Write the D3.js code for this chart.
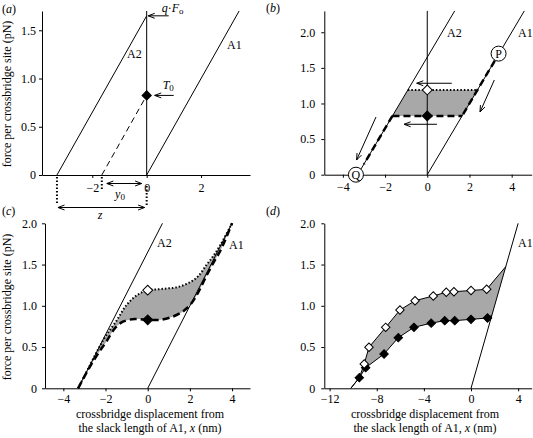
<!DOCTYPE html>
<html><head><meta charset="utf-8">
<script src="https://cdn.jsdelivr.net/npm/d3@7"></script>
<style>
body{margin:0;background:#fff}
svg{display:block}
svg text{font-family:"Liberation Serif","Times New Roman",serif;fill:#000;font-size:12px}
</style></head><body>
<svg id="c" width="533" height="438"></svg>
<script>
// ---------- data ----------
// panel (a)
const aA1 = [[0, 0], [3.4, 1.7]];
const aA2 = [[-3.3, 0], [0, 1.65]];
const aZeroLine = [[0, 0], [0, 1.7]];
const aStroke = [[-1.65, 0], [0, 0.825]];
const aT0 = [[0, 0.825]];
const aQF0 = 1.65;
const aXTicks = [-2, 0, 2];
const aYTicks = [0, 0.5, 1.0, 1.5];
const aY0 = -1.65, aZ = -3.3;

// panel (b)
const bA1 = [[0, 0], [4.6, 2.3]];
const bA2 = [[-3.3, 0], [1.3, 2.3]];
const bZeroLine = [[0, 0], [0, 2.3]];
const bBand = [[-1.65, 0.825], [1.65, 0.825], [2.38, 1.19], [-0.92, 1.19]];
const bLower = [[-1.65, 0.825], [1.65, 0.825]];
const bUpper = [[-0.92, 1.19], [2.38, 1.19]];
const bPath1 = [[3.2, 1.6], [1.65, 0.825]];
const bPath2 = [[-1.65, 0.825], [-3.0, 0.15]];
const bOpen = [[0, 1.19]];
const bFilled = [[0, 0.825]];
const bCircles = [{name: "P", x: 3.38, y: 1.70}, {name: "Q", x: -3.38, y: 0}];
const bArrows = [
  [[1.16, 1.284], [-0.5, 1.284]],
  [[0.46, 0.708], [-1.1, 0.708]],
  [[3.18, 1.33], [2.5, 0.88]],
  [[-2.43, 0.81], [-3.35, 0.206]]
];
const bXTicks = [-4, -2, 0, 2, 4];
const bYTicks = [0, 0.5, 1.0, 1.5, 2.0];

// panel (c)
const cA1 = [[0, 0], [4, 2]];
const cA2 = [[-3.3, 0], [0.7, 2]];
const cUpper = [[-3.3, 0], [-2.9, 0.2], [-2.5, 0.4], [-2.25, 0.52], [-1.95, 0.65], [-1.5, 0.81], [-1.0, 1.01],
  [-0.5, 1.13], [0, 1.19], [0.5, 1.2], [0.9, 1.21], [1.3, 1.22], [1.7, 1.25], [2.1, 1.3], [2.4, 1.36],
  [2.8, 1.5], [3.1, 1.6], [3.45, 1.74], [4.0, 2.0]];
const cLower = [[-3.3, 0], [-2.9, 0.19], [-2.58, 0.33], [-2.25, 0.46], [-1.95, 0.57], [-1.55, 0.73], [-1.15, 0.81],
  [-0.6, 0.84], [0, 0.83], [0.6, 0.83], [1.2, 0.87], [1.6, 0.92], [1.85, 0.97], [2.1, 1.04], [2.35, 1.14],
  [2.8, 1.37], [3.2, 1.56], [3.45, 1.67], [4.0, 2.0]];
const cOpen = [[0, 1.19]];
const cFilled = [[0, 0.83]];
const cXTicks = [-4, -2, 0, 2, 4];
const cYTicks = [0, 0.5, 1.0, 1.5, 2.0];

// panel (d)
const dA1 = [[0, 0], [4, 2]];
const dStart = [-10.2, 0];
const dOpenX = [-9.06, -8.66, -7.24, -6.03, -4.75, -3.2, -2.1, -1.45, 0.0, 1.33];
const dOpenY = [0.295, 0.497, 0.739, 0.949, 1.062, 1.119, 1.165, 1.171, 1.185, 1.2];
const dFilledX = [-9.48, -8.94, -7.38, -6.17, -4.84, -3.38, -2.23, -1.38, 0.0, 1.4];
const dFilledY = [0.129, 0.25, 0.416, 0.614, 0.739, 0.79, 0.82, 0.82, 0.836, 0.852];
const dUpperEnd = [2.95, 1.475];
const dLowerEnd = [1.77, 0.885];
const dXTicks = [-12, -8, -4, 0, 4];
const dYTicks = [0, 0.5, 1.0, 1.5, 2.0];

// ---------- drawing ----------
const svg = d3.select("#c");
const FONT = '"Liberation Serif", "Times New Roman", serif';
const fmtY = d => d === 0 ? "0" : d3.format(".1f")(d);
const fmtX = d3.format("d");
const GRAY = "#a8a8a8";

function axes(x, y, xt, yt, xpad, ypad) {
  const gx = svg.append("g").attr("transform", `translate(0,${y.range()[0]})`)
    .call(d3.axisBottom(x).tickValues(xt).tickFormat(fmtX).tickSize(3).tickSizeOuter(0).tickPadding(xpad));
  const gy = svg.append("g").attr("transform", `translate(${x.range()[0]},0)`)
    .call(d3.axisLeft(y).tickValues(yt).tickFormat(fmtY).tickSize(3).tickSizeOuter(0).tickPadding(ypad));
  [gx, gy].forEach(g => {
    g.attr("font-family", FONT).attr("font-size", 12);
    g.selectAll("text").style("font-family", FONT).style("font-size", "12px");
  });
}
function seg(x, y, pts, opt = {}) {
  const p = svg.append("path").datum(pts)
    .attr("d", d3.line().x(d => x(d[0])).y(d => y(d[1])).curve(opt.curve || d3.curveLinear))
    .attr("fill", "none").attr("stroke", "#000").attr("stroke-width", opt.w || 1);
  if (opt.dash) p.attr("stroke-dasharray", opt.dash);
  return p;
}
function head(xt, yt, xf, yf, len = 7, ang = 0.36) {
  const a = Math.atan2(yf - yt, xf - xt);
  const p = d3.path();
  p.moveTo(xt + len * Math.cos(a + ang), yt + len * Math.sin(a + ang));
  p.lineTo(xt, yt);
  p.lineTo(xt + len * Math.cos(a - ang), yt + len * Math.sin(a - ang));
  svg.append("path").attr("d", p.toString()).attr("fill", "none").attr("stroke", "#000").attr("stroke-width", 1);
}
function arrowPx(x1, y1, x2, y2, both) {
  svg.append("line").attr("x1", x1).attr("y1", y1).attr("x2", x2).attr("y2", y2)
    .attr("stroke", "#000").attr("stroke-width", 1);
  head(x2, y2, x1, y1);
  if (both) head(x1, y1, x2, y2);
}
function diamonds(x, y, pts, fill, side) {
  svg.append("g").selectAll("path").data(pts).join("path")
    .attr("d", d3.symbol(d3.symbolSquare, side * side)())
    .attr("transform", d => `translate(${x(d[0])},${y(d[1])}) rotate(45)`)
    .attr("fill", fill).attr("stroke", "#000").attr("stroke-width", 1);
}
function label(px, py, parts, anchor) {
  const t = svg.append("text").attr("x", px).attr("y", py);
  if (anchor) t.attr("text-anchor", anchor);
  parts.forEach(p => {
    const s = t.append("tspan").text(p.t);
    if (p.i) s.attr("font-style", "italic");
    if (p.sub) s.attr("baseline-shift", "-25%").style("font-size", "9px");
  });
  return t;
}
function ylabel(px, py) {
  svg.append("text").attr("transform", `translate(${px},${py}) rotate(-90)`)
    .attr("text-anchor", "middle").text("force per crossbridge site (pN)");
}
function xlabel(px) {
  svg.append("text").attr("x", px).attr("y", 418).attr("text-anchor", "middle").text("crossbridge displacement from");
  label(px, 432, [{t: "the slack length of A1, "}, {t: "x", i: 1}, {t: " (nm)"}], "middle");
}

// ===== panel (a) =====
{
  const x = d3.scaleLinear([-3.85, 3.8], [42, 250]);
  const y = d3.scaleLinear([0, 1.7], [175, 11]);
  seg(x, y, aA1); seg(x, y, aA2); seg(x, y, aZeroLine);
  seg(x, y, aStroke, {dash: "6,4"});
  diamonds(x, y, aT0, "#000", 6.5);
  axes(x, y, aXTicks, aYTicks, 5, 3);
  arrowPx(x(0) + 22, y(aQF0), x(0) + 1.5, y(aQF0));
  label(x(0) + 15, 12, [{t: "q", i: 1}, {t: "·"}, {t: "F", i: 1}, {t: "o", sub: 1}]);
  arrowPx(x(0) + 27, y(aT0[0][1]), x(0) + 8, y(aT0[0][1]));
  label(x(0) + 16, 89, [{t: "T", i: 1}, {t: "0", sub: 1}]);
  label(127, 58, [{t: "A2"}]);
  label(227, 49, [{t: "A1"}]);
  const dot = (xx, y1, y2) => svg.append("line").attr("x1", xx).attr("x2", xx).attr("y1", y1).attr("y2", y2)
    .attr("stroke", "#000").attr("stroke-width", 2).attr("stroke-dasharray", "1.5,2");
  dot(x(aZ), 177, 205); dot(x(aY0), 177, 189); dot(x(0), 186, 205);
  arrowPx(x(aY0) + 5, 183.5, x(0) - 5, 183.5, true);
  arrowPx(x(aZ) + 1, 207.5, x(0) - 2, 207.5, true);
  label(120, 198, [{t: "y", i: 1}, {t: "0", sub: 1}], "middle");
  label(100, 219, [{t: "z", i: 1}], "middle");
  ylabel(11, 94);
  label(2, 13, [{t: "("}, {t: "a", i: 1}, {t: ")"}]);
}

// ===== panel (b) =====
{
  const x = d3.scaleLinear([-4.88, 4.95], [324.3, 531.7]);
  const y = d3.scaleLinear([0, 2.3], [174.7, 10.9]);
  svg.append("path").datum(bBand)
    .attr("d", d3.line().x(d => x(d[0])).y(d => y(d[1])).curve(d3.curveLinearClosed))
    .attr("fill", GRAY).attr("stroke", "none");
  seg(x, y, bA1); seg(x, y, bA2); seg(x, y, bZeroLine);
  seg(x, y, bLower, {w: 2.5, dash: "7,4"});
  seg(x, y, bUpper, {w: 2, dash: "1.5,2"});
  seg(x, y, bPath1, {w: 2.5, dash: "7,4"});
  seg(x, y, bPath2, {w: 2.5, dash: "7,4"});
  diamonds(x, y, bFilled, "#000", 7);
  diamonds(x, y, bOpen, "#fff", 7);
  bArrows.forEach(a => arrowPx(x(a[0][0]), y(a[0][1]), x(a[1][0]), y(a[1][1])));
  axes(x, y, bXTicks, bYTicks, 5, 6);
  const cg = svg.append("g").selectAll("g").data(bCircles).join("g")
    .attr("transform", d => `translate(${x(d.x)},${y(d.y)})`);
  cg.append("circle").attr("r", 7.5).attr("fill", "#fff").attr("stroke", "#000").attr("stroke-width", 1);
  cg.append("text").attr("text-anchor", "middle").attr("dy", "0.35em").text(d => d.name);
  label(447, 37, [{t: "A2"}]);
  label(518, 37, [{t: "A1"}]);
  label(266, 12, [{t: "("}, {t: "b", i: 1}, {t: ")"}]);
}

// ===== panel (c) =====
{
  const x = d3.scaleLinear([-4.87, 4.85], [45, 250]);
  const y = d3.scaleLinear([0, 2], [388.3, 223.3]);
  const ln = d3.line().x(d => x(d[0])).y(d => y(d[1])).curve(d3.curveCatmullRom);
  const upPath = ln(cUpper);
  const loPath = ln(cLower.slice().reverse());
  svg.append("path").attr("d", upPath + "L" + loPath.slice(1) + "Z").attr("fill", GRAY).attr("stroke", "none");
  seg(x, y, cA1); seg(x, y, cA2);
  seg(x, y, cLower, {w: 2.5, dash: "7,4", curve: d3.curveCatmullRom});
  seg(x, y, cUpper, {w: 2, dash: "1.5,2", curve: d3.curveCatmullRom});
  diamonds(x, y, cFilled, "#000", 7);
  diamonds(x, y, cOpen, "#fff", 7);
  axes(x, y, cXTicks, cYTicks, 3, 5);
  label(157, 247, [{t: "A2"}]);
  label(229, 249, [{t: "A1"}]);
  ylabel(11, 307);
  xlabel(150);
  label(2, 215, [{t: "("}, {t: "c", i: 1}, {t: ")"}]);
}

// ===== panel (d) =====
{
  const x = d3.scaleLinear([-12.45, 5.15], [324.3, 531.7]);
  const y = d3.scaleLinear([0, 2], [388.3, 223.3]);
  const opens = dOpenX.map((v, i) => [v, dOpenY[i]]);
  const fills = dFilledX.map((v, i) => [v, dFilledY[i]]);
  const upper = [dStart, fills[0], ...opens, dUpperEnd];
  const lower = [dStart, ...fills, dLowerEnd];
  const region = [fills[0], ...opens, dUpperEnd, dLowerEnd, ...fills.slice(1).reverse()];
  svg.append("path").datum(region)
    .attr("d", d3.line().x(d => x(d[0])).y(d => y(d[1])).curve(d3.curveLinearClosed))
    .attr("fill", GRAY).attr("stroke", "none");
  seg(x, y, dA1);
  seg(x, y, upper); seg(x, y, lower);
  diamonds(x, y, fills, "#000", 6);
  diamonds(x, y, opens, "#fff", 6);
  axes(x, y, dXTicks, dYTicks, 3, 6);
  label(518, 247, [{t: "A1"}]);
  xlabel(425);
  label(266, 215, [{t: "("}, {t: "d", i: 1}, {t: ")"}]);
}
</script>
</body></html>
